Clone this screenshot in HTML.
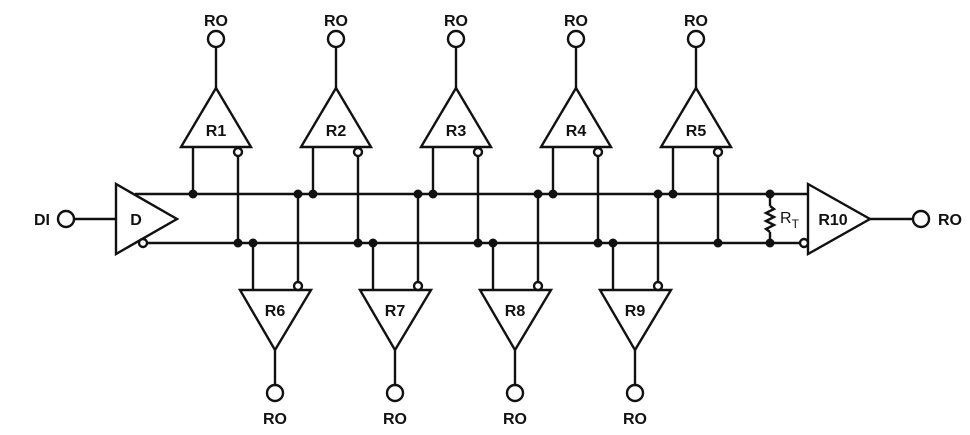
<!DOCTYPE html>
<html><head><meta charset="utf-8"><style>
html,body{margin:0;padding:0;background:#fff;}
svg{display:block;}
text{font-family:"Liberation Sans",sans-serif;font-weight:bold;fill:#111;}
</style></head><body>
<svg width="970" height="435" viewBox="0 0 970 435" xmlns="http://www.w3.org/2000/svg">
<defs>
<g id="top" stroke="#111" stroke-width="2.4" fill="none">
  <polygon points="-35,147 35,147 0,88" fill="#fff"/>
  <line x1="0" y1="88" x2="0" y2="47"/>
  <circle cx="0" cy="39" r="8" fill="#fff"/>
  <line x1="-23" y1="147" x2="-23" y2="194"/>
  <line x1="22" y1="156" x2="22" y2="243"/>
  <circle cx="22" cy="152" r="4" fill="#fff"/>
  <circle cx="-23" cy="194" r="4.5" fill="#111" stroke="none"/>
  <circle cx="22" cy="243" r="4.5" fill="#111" stroke="none"/>
</g>
<g id="bot" stroke="#111" stroke-width="2.4" fill="none">
  <polygon points="-35,290 36,290 0,350" fill="#fff"/>
  <line x1="0" y1="350" x2="0" y2="385"/>
  <circle cx="0" cy="393" r="8" fill="#fff"/>
  <line x1="-22" y1="243" x2="-22" y2="290"/>
  <line x1="23" y1="194" x2="23" y2="282"/>
  <circle cx="23" cy="286" r="4" fill="#fff"/>
  <circle cx="-22" cy="243" r="4.5" fill="#111" stroke="none"/>
  <circle cx="23" cy="194" r="4.5" fill="#111" stroke="none"/>
</g>
</defs>
<g stroke="#111" stroke-width="2.4" fill="none">
  <line x1="135" y1="194" x2="808" y2="194"/>
  <line x1="147" y1="243" x2="800" y2="243"/>
  <line x1="74" y1="219" x2="116" y2="219"/>
  <circle cx="66" cy="219" r="8" fill="#fff"/>
  <polygon points="116,184 116,254 177,219" fill="#fff"/>
  <circle cx="143" cy="243" r="4" fill="#fff"/>
  <polygon points="808,184 808,254 870,219" fill="#fff"/>
  <circle cx="804" cy="243" r="4" fill="#fff"/>
  <line x1="870" y1="219" x2="913" y2="219"/>
  <circle cx="921" cy="219" r="8" fill="#fff"/>
  <line x1="770" y1="194" x2="770" y2="206"/>
  <polyline points="770,206 774,209 766,213 774,217 766,221 774,225 766,229 770,232"/>
  <line x1="770" y1="232" x2="770" y2="243"/>
</g>
<circle cx="770" cy="194" r="4.5" fill="#111"/>
<circle cx="770" cy="243" r="4.5" fill="#111"/>
<use href="#top" x="216"/><use href="#top" x="336"/><use href="#top" x="456"/><use href="#top" x="576"/><use href="#top" x="696"/>
<use href="#bot" x="275"/><use href="#bot" x="395"/><use href="#bot" x="515"/><use href="#bot" x="635"/>
<g font-size="16" text-anchor="middle">
  <text x="216" y="136">R1</text><text x="336" y="136">R2</text><text x="456" y="136">R3</text><text x="576" y="136">R4</text><text x="696" y="136">R5</text>
  <text x="216" y="26">RO</text><text x="336" y="26">RO</text><text x="456" y="26">RO</text><text x="576" y="26">RO</text><text x="696" y="26">RO</text>
  <text x="275" y="316">R6</text><text x="395" y="316">R7</text><text x="515" y="316">R8</text><text x="635" y="316">R9</text>
  <text x="275" y="424">RO</text><text x="395" y="424">RO</text><text x="515" y="424">RO</text><text x="635" y="424">RO</text>
  <text x="136" y="225">D</text>
  <text x="833" y="225">R10</text>
</g>
<text x="34" y="225" font-size="16">DI</text>
<text x="938" y="225" font-size="16">RO</text>
<text x="780" y="223" font-size="16" style="font-weight:normal">R<tspan font-size="12" dy="5">T</tspan></text>
</svg>
</body></html>
